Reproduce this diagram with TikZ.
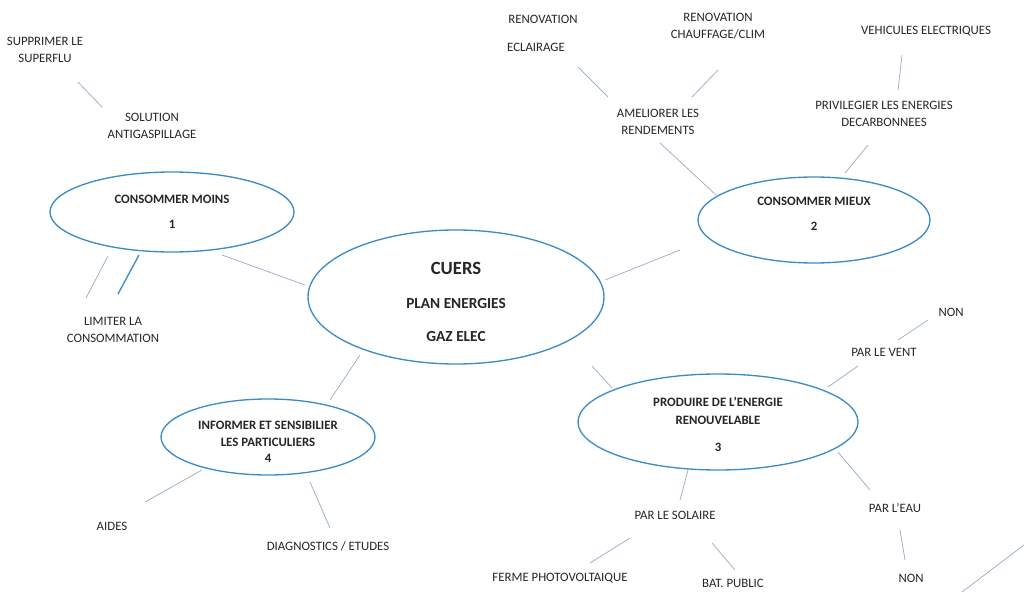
\documentclass[tikz,border=0pt]{standalone}
\usepackage{fontspec}
\setmainfont{Carlito}
\definecolor{bb}{HTML}{3C8CC8}
\definecolor{ll}{HTML}{9FB3C8}
\begin{document}
\begin{tikzpicture}[x=0.75pt,y=-0.75pt,
 lab/.style={font=\fontsize{9.6}{13}\selectfont,align=center,text=black!85},
 bub/.style={draw=bb,line width=1pt,fill=white},
 ln/.style={draw=ll,line width=0.6pt}]
\useasboundingbox (0,0) rectangle (1024,592);
% connectors
\draw[ln] (78,82)--(102,107);
\draw[ln] (222,255)--(305,285);
\draw[ln] (108,256)--(86,298);
\draw[draw=bb,line width=1pt] (139,255)--(118,294);
\draw[ln] (578,67)--(608,97);
\draw[ln] (718,70)--(692,97);
\draw[ln] (660,143)--(716,195);
\draw[ln] (902,55)--(898,90);
\draw[ln] (868,145)--(845,173);
\draw[ln] (605,280)--(680,250);
\draw[ln] (592,366)--(612,388);
\draw[ln] (360,355)--(330,400);
\draw[ln] (928,320)--(898,340);
\draw[ln] (858,366)--(828,387);
\draw[ln] (838,452)--(870,490);
\draw[ln] (900,530)--(905,560);
\draw[ln] (688,470)--(680,500);
\draw[ln] (630,538)--(590,563);
\draw[ln] (712,543)--(735,570);
\draw[ln] (202,470)--(145,502);
\draw[ln] (310,482)--(330,528);
\draw[ln] (962,592)--(1024,545);
% bubbles
\draw[bub] (172,212) ellipse [x radius=122,y radius=40];
\draw[bub] (456,297) ellipse [x radius=148,y radius=67];
\draw[bub] (814,220) ellipse [x radius=116,y radius=43];
\draw[bub] (718,422) ellipse [x radius=140,y radius=48];
\draw[bub] (268,437) ellipse [x radius=107,y radius=38];
\node[lab,font=\fontsize{9.6}{19}\selectfont\bfseries] (m) at (172,212) {CONSOMMER MOINS\\1};
\node[lab,font=\fontsize{14}{25}\selectfont\bfseries] (c) at (456,268) {CUERS};
\node[lab,font=\fontsize{11.5}{25}\selectfont\bfseries] (c2) at (456,320) {PLAN ENERGIES\\GAZ ELEC};
\node[lab,font=\fontsize{9.6}{19}\selectfont\bfseries] (mx) at (814,214) {CONSOMMER MIEUX\\2};
\node[lab,font=\fontsize{9.6}{13}\selectfont\bfseries] (p) at (718,411) {PRODUIRE DE L’ENERGIE\\RENOUVELABLE};
\node[lab,font=\fontsize{9.6}{13}\selectfont\bfseries] (p3) at (718,447) {3};
\node[lab,font=\fontsize{9.6}{12.5}\selectfont\bfseries] (i) at (268,442) {INFORMER ET SENSIBILIER\\LES PARTICULIERS\\4};
% labels
\node[lab] (a1) at (45,50) {SUPPRIMER LE\\SUPERFLU};
\node[lab] (a2) at (152,126) {SOLUTION\\ANTIGASPILLAGE};
\node[lab] (a3) at (113,330) {LIMITER LA\\CONSOMMATION};
\node[lab] (b1) at (543,19) {RENOVATION};
\node[lab] (b2) at (536,47) {ECLAIRAGE};
\node[lab] (b3) at (718,26) {RENOVATION\\CHAUFFAGE/CLIM};
\node[lab] (b4) at (658,122) {AMELIORER LES\\RENDEMENTS};
\node[lab] (b5) at (926,31) {VEHICULES ELECTRIQUES};
\node[lab] (b6) at (884,114) {PRIVILEGIER LES ENERGIES\\DECARBONNEES};
\node[lab] (d1) at (951,312) {NON};
\node[lab] (d2) at (884,352) {PAR LE VENT};
\node[lab] (d3) at (895,508) {PAR L’EAU};
\node[lab] (d4) at (911,578) {NON};
\node[lab] (d5) at (675,515) {PAR LE SOLAIRE};
\node[lab] (d6) at (560,578) {FERME PHOTOVOLTAIQUE};
\node[lab] (d7) at (733,583) {BAT. PUBLIC};
\node[lab] (e1) at (112,526) {AIDES};
\node[lab] (e2) at (328,546) {DIAGNOSTICS / ETUDES};
\end{tikzpicture}
\end{document}
